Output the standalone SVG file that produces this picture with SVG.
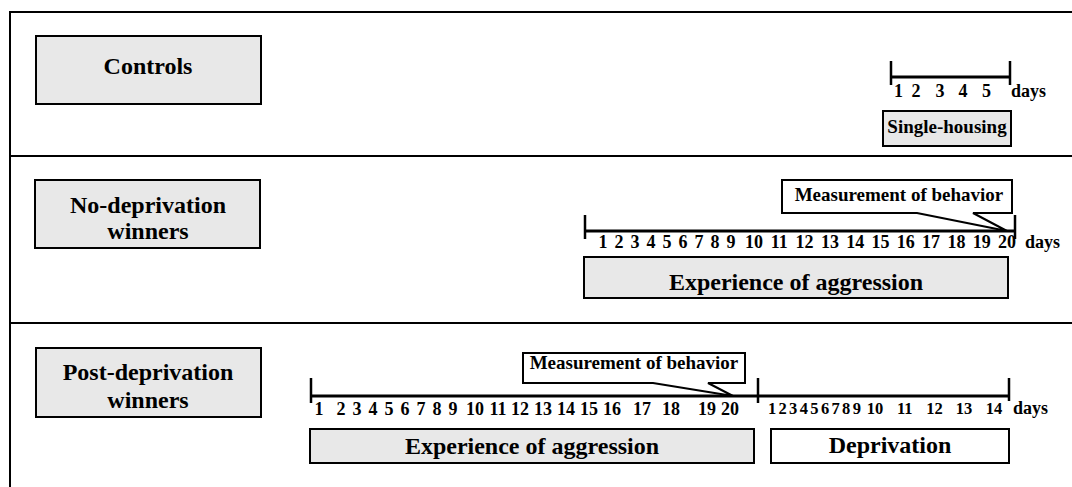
<svg xmlns="http://www.w3.org/2000/svg" width="1072" height="487" viewBox="0 0 1072 487">
<style>
.frame{stroke:#000;stroke-width:2;fill:none}
.box{fill:#e8e8e8;stroke:#000;stroke-width:2}
.wbox{fill:#fff;stroke:#000;stroke-width:2}
.axis{stroke:#000;stroke-width:3;fill:none}
.tick{stroke:#000;stroke-width:2.5;fill:none}
text{font-family:"Liberation Serif","Times New Roman",serif;font-weight:bold;fill:#000}
.big{font-size:24px;text-anchor:middle}
.num{font-size:18px;text-anchor:middle}
.num2{font-size:16.5px;text-anchor:middle}
.days{font-size:18px}
.small{font-size:19px;text-anchor:middle}
</style>
<rect width="1072" height="487" fill="#fff"/>
<g id="frame">
<path class="frame" d="M10,487 V12 H1072"/>
<line class="frame" x1="10" y1="156" x2="1072" y2="156"/>
<line class="frame" x1="10" y1="323" x2="1072" y2="323"/>
</g>
<g id="controls">
<rect class="box" x="36" y="36" width="225" height="68"/>
<text class="big" x="148" y="74">Controls</text>
</g>
<g id="controls-timeline">
<line class="axis" x1="891" y1="77" x2="1010" y2="77"/>
<line class="tick" x1="891" y1="61" x2="891" y2="85"/>
<line class="tick" x1="1010" y1="61" x2="1010" y2="85"/>
<text class="num" y="97"><tspan x="898.5">1</tspan><tspan x="916">2</tspan><tspan x="940">3</tspan><tspan x="963">4</tspan><tspan x="986.5">5</tspan></text>
<text class="days" x="1011" y="97">days</text>
</g>
<g id="single-housing">
<rect class="box" x="883" y="111" width="128" height="35"/>
<text class="small" x="947" y="133">Single-housing</text>
</g>
<g id="nodep">
<rect class="box" x="35" y="180" width="225" height="68"/>
<text class="big" x="148" y="213">No-deprivation</text>
<text class="big" x="148" y="239">winners</text>
</g>
<g id="nodep-timeline">
<line class="axis" x1="585" y1="231" x2="1015" y2="231"/>
<line class="tick" x1="585" y1="215" x2="585" y2="239"/>
<line class="tick" x1="1015" y1="215" x2="1015" y2="239"/>
<text class="num" y="248"><tspan x="603">1</tspan><tspan x="619">2</tspan><tspan x="635">3</tspan><tspan x="651">4</tspan><tspan x="667">5</tspan><tspan x="683">6</tspan><tspan x="699">7</tspan><tspan x="715">8</tspan><tspan x="731">9</tspan><tspan x="754">10</tspan><tspan x="779.3">11</tspan><tspan x="804.6">12</tspan><tspan x="829.9">13</tspan><tspan x="855.2">14</tspan><tspan x="880.5">15</tspan><tspan x="905.8">16</tspan><tspan x="931.1">17</tspan><tspan x="956.4">18</tspan><tspan x="981.7">19</tspan><tspan x="1007">20</tspan></text>
<text class="days" x="1025" y="248">days</text>
</g>
<g id="nodep-measure">
<path class="wbox" d="M782,180 H1012 V213 H973 L1007,231 L917,213 H782 Z"/>
<text class="small" x="899" y="201">Measurement of behavior</text>
</g>
<g id="nodep-aggression">
<rect class="box" x="584" y="257" width="424" height="41"/>
<text class="big" x="796" y="290">Experience of aggression</text>
</g>
<g id="postdep">
<rect class="box" x="36" y="348" width="225" height="69"/>
<text class="big" x="148" y="380">Post-deprivation</text>
<text class="big" x="148" y="408">winners</text>
</g>
<g id="postdep-timeline">
<line class="axis" x1="311" y1="396" x2="1009" y2="396"/>
<line class="tick" x1="311" y1="378" x2="311" y2="403"/>
<line class="tick" x1="758" y1="378" x2="758" y2="403"/>
<line class="tick" x1="1009" y1="378" x2="1009" y2="401"/>
<text class="num" y="415"><tspan x="319">1</tspan><tspan x="341">2</tspan><tspan x="357">3</tspan><tspan x="373">4</tspan><tspan x="389">5</tspan><tspan x="405">6</tspan><tspan x="421">7</tspan><tspan x="437">8</tspan><tspan x="453">9</tspan><tspan x="475">10</tspan><tspan x="498">11</tspan><tspan x="520">12</tspan><tspan x="543">13</tspan><tspan x="566">14</tspan><tspan x="589">15</tspan><tspan x="612">16</tspan><tspan x="642">17</tspan><tspan x="671">18</tspan><tspan x="707">19</tspan><tspan x="730">20</tspan></text>
<text class="num2" y="414"><tspan x="772">1</tspan><tspan x="782.6">2</tspan><tspan x="793.2">3</tspan><tspan x="803.8">4</tspan><tspan x="814.4">5</tspan><tspan x="825">6</tspan><tspan x="835.6">7</tspan><tspan x="846.2">8</tspan><tspan x="856.8">9</tspan><tspan x="875">10</tspan><tspan x="904.7">11</tspan><tspan x="934.4">12</tspan><tspan x="964">13</tspan><tspan x="994">14</tspan></text>
<text class="days" x="1013" y="414">days</text>
</g>
<g id="postdep-measure">
<path class="wbox" d="M523,353 H745 V383 H708 L733,396 L653,383 H523 Z"/>
<text class="small" x="634" y="369">Measurement of behavior</text>
</g>
<g id="postdep-aggression">
<rect class="box" x="310" y="429" width="444" height="34"/>
<text class="big" x="532" y="454">Experience of aggression</text>
</g>
<g id="deprivation">
<rect class="wbox" x="771" y="429" width="238" height="34"/>
<text class="big" x="890" y="453">Deprivation</text>
</g>
</svg>
